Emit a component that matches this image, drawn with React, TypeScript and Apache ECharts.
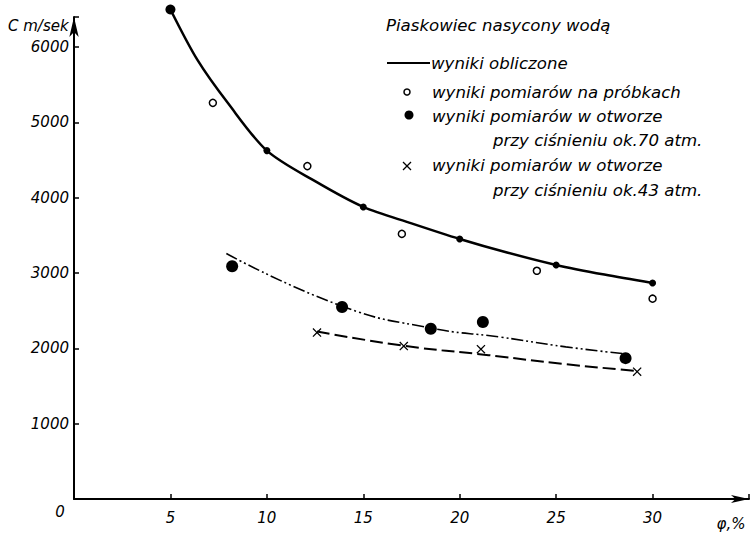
import React, { useEffect, useRef } from "react";
import * as echarts from "echarts";

// ---- data ----
// computed curve (solid line) read along its course
const calcCurveX = [5, 6.4, 8, 10, 12.5, 15, 17.5, 20, 22.5, 25, 27.5, 30];
const calcCurveY = [6500, 5830, 5250, 4626, 4220, 3878, 3660, 3453, 3270, 3108, 2980, 2868];
// computed points (small dots on the solid line)
const calcX = [5, 10, 15, 20, 25, 30];
const calcY = [6500, 4626, 3878, 3453, 3108, 2868];

const sampleX = [7.2, 12.1, 17.0, 24.0, 30.0];
const sampleY = [5260, 4420, 3520, 3030, 2660];

const atm70X = [8.2, 13.9, 18.5, 21.2, 28.6];
const atm70Y = [3090, 2550, 2260, 2350, 1870];
const fit70X = [7.9, 13.9, 18.5, 22.1, 25.5, 28.5];
const fit70Y = [3260, 2560, 2270, 2150, 2020, 1930];

const atm43X = [12.6, 17.1, 21.1, 29.2];
const atm43Y = [2210, 2030, 1990, 1690];
const fit43X = [12.6, 17.1, 21.5, 25.5, 29.2];
const fit43Y = [2225, 2035, 1910, 1790, 1700];

const xTickLabels = ["5", "10", "15", "20", "25", "30"];
const yTickLabels = ["1000", "2000", "3000", "4000", "5000", "6000"];

const titleText = "Piaskowiec nasycony wodą";
const legendCalc = "wyniki obliczone";
const legendSample = "wyniki pomiarów na próbkach";
const legendBore = "wyniki pomiarów w otworze";
const legend70 = "przy ciśnieniu ok.70 atm.";
const legend43 = "przy ciśnieniu ok.43 atm.";
const yName = "C m/sek";
const xName = "φ,%";

const zip = (xs: number[], ys: number[]) => xs.map((x, i) => [x, ys[i]]);

const FONT = "DejaVu Sans";
const CROSS =
  "path://M0,1 L1,0 L5,4 L9,0 L10,1 L6,5 L10,9 L9,10 L5,6 L1,10 L0,9 L4,5 Z";

export default function App() {
  const ref = useRef<HTMLDivElement>(null);
  useEffect(() => {
    if (!ref.current) return;
    const chart = echarts.init(ref.current, null, { renderer: "svg" });
    const txt = (text: string, x: number, y: number, size = 16.6, align = "left") => ({
      type: "text",
      x,
      y,
      style: {
        text,
        fill: "#000",
        fontSize: size,
        fontFamily: FONT,
        fontStyle: "italic",
        textAlign: align,
        textVerticalAlign: "middle",
      },
    });
    chart.setOption({
      animation: false,
      backgroundColor: "#fff",
      grid: { left: 74, right: 2, top: 17, bottom: 37, containLabel: false },
      xAxis: {
        type: "value",
        min: 0,
        max: 35,
        interval: 5,
        splitLine: { show: false },
        axisLine: {
          lineStyle: { color: "#000", width: 2 },
          symbol: ["none", "arrow"],
          symbolSize: [6, 18],
        },
        axisTick: { inside: true, length: 5, lineStyle: { color: "#000", width: 1.5 } },
        axisLabel: {
          margin: 11,
          color: "#000",
          fontSize: 15,
          fontFamily: FONT,
          fontStyle: "italic",
          formatter: (v: number) => {
            const s = String(v);
            return xTickLabels.includes(s) ? s : "";
          },
        },
      },
      yAxis: {
        type: "value",
        min: 0,
        max: 6400,
        interval: 1000,
        splitLine: { show: false },
        axisLine: {
          lineStyle: { color: "#000", width: 2 },
          symbol: ["none", "arrow"],
          symbolSize: [7, 20],
        },
        axisTick: { inside: true, length: 5, lineStyle: { color: "#000", width: 1.5 } },
        axisLabel: {
          margin: 5,
          color: "#000",
          fontSize: 15,
          fontFamily: FONT,
          fontStyle: "italic",
          formatter: (v: number) => {
            const s = String(v);
            return yTickLabels.includes(s) ? s : "";
          },
        },
      },
      series: [
        {
          name: "calcCurve",
          type: "line",
          smooth: 0.3,
          clip: false,
          data: zip(calcCurveX, calcCurveY),
          showSymbol: false,
          lineStyle: { color: "#000", width: 2.5 },
          z: 3,
        },
        {
          name: legendCalc,
          type: "scatter",
          clip: false,
          data: zip(calcX, calcY),
          symbol: "circle",
          symbolSize: (_v: any, p: any) => (p.dataIndex === 0 ? 10 : 7),
          itemStyle: { color: "#000", opacity: 1 },
          z: 4,
        },
        {
          name: legendSample,
          type: "scatter",
          data: zip(sampleX, sampleY),
          symbol: "circle",
          symbolSize: 7,
          itemStyle: { color: "#fff", borderColor: "#000", borderWidth: 1.5, opacity: 1 },
          z: 4,
        },
        {
          name: "fit70",
          type: "line",
          smooth: 0.5,
          data: zip(fit70X, fit70Y),
          showSymbol: false,
          lineStyle: { color: "#000", width: 1.6, type: [12, 3, 2, 3, 2, 3] },
          z: 2,
        },
        {
          name: legend70,
          type: "scatter",
          data: zip(atm70X, atm70Y),
          symbol: "circle",
          symbolSize: 12,
          itemStyle: { color: "#000", opacity: 1 },
          z: 4,
        },
        {
          name: "fit43",
          type: "line",
          smooth: 0.5,
          data: zip(fit43X, fit43Y),
          showSymbol: false,
          lineStyle: { color: "#000", width: 2, type: [13, 5] },
          z: 2,
        },
        {
          name: legend43,
          type: "scatter",
          data: zip(atm43X, atm43Y),
          symbol: CROSS,
          symbolSize: 9,
          itemStyle: { color: "#000", opacity: 1 },
          z: 4,
        },
      ],
      graphic: [
        txt(yName, 8, 26, 15),
        txt("0", 60, 512, 15, "center"),
        txt(xName, 731, 524, 15, "center"),
        txt(titleText, 386, 25),
        {
          type: "line",
          shape: { x1: 387, y1: 63, x2: 430, y2: 63 },
          style: { stroke: "#000", lineWidth: 2 },
        },
        txt(legendCalc, 431, 63),
        {
          type: "circle",
          shape: { cx: 407, cy: 92, r: 3 },
          style: { fill: "#fff", stroke: "#000", lineWidth: 1.5 },
        },
        txt(legendSample, 432, 92),
        {
          type: "circle",
          shape: { cx: 409, cy: 115, r: 4.5 },
          style: { fill: "#000" },
        },
        txt(legendBore, 432, 116),
        txt(legend70, 493, 140),
        {
          type: "line",
          shape: { x1: 403, y1: 162, x2: 411, y2: 170 },
          style: { stroke: "#000", lineWidth: 1.3 },
        },
        {
          type: "line",
          shape: { x1: 411, y1: 162, x2: 403, y2: 170 },
          style: { stroke: "#000", lineWidth: 1.3 },
        },
        txt(legendBore, 432, 165),
        txt(legend43, 493, 190),
      ],
    });
    return () => chart.dispose();
  }, []);
  return (
    <div
      ref={ref}
      style={{ position: "fixed", left: 0, top: 0, width: 752, height: 536, background: "#fff" }}
    />
  );
}
